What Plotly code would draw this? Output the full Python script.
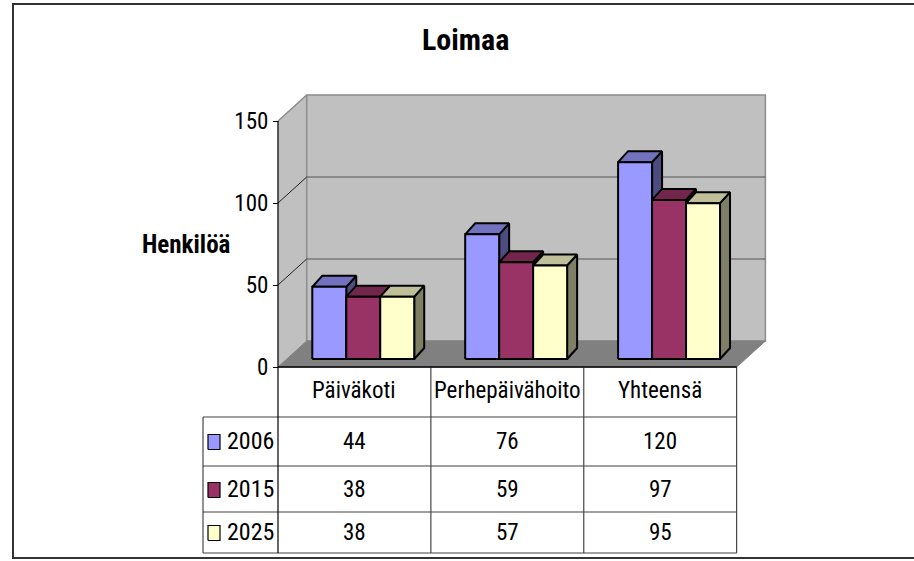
import plotly.graph_objects as go

# ---------------- data ----------------
categories = ["Päiväkoti", "Perhepäivähoito", "Yhteensä"]
series_names = ["2006", "2015", "2025"]
values_2006 = [44, 76, 120]
values_2015 = [38, 59, 97]
values_2025 = [38, 57, 95]
y_ticks = [0, 50, 100, 150]
title_text = "Loimaa"
y_title = "Henkilöä"

series_values = [values_2006, values_2015, values_2025]
series_colors = ["#9999FF", "#993366", "#FFFFCC"]

# ---------------- layout geometry ----------------
W, H = 914, 561
X0_PX, PX_PER_CAT = 278.0, 152.9      # front-plane category scale
Y0_PX, PX_PER_VAL = 367.0, 1.64       # front-plane value scale
Y_MAX = 150
FONT = "Roboto Condensed, Liberation Sans Narrow, Arial Narrow, Liberation Sans, sans-serif"


def cx(px):
    return (px - X0_PX) / PX_PER_CAT


def vy(py):
    return (Y0_PX - py) / PX_PER_VAL


# 3-D projection offsets (data units)
WALL_DX, WALL_DY = 28.7 / PX_PER_CAT, 26.0 / PX_PER_VAL
BAR_OFF_X, BAR_OFF_Y = 8.8 / PX_PER_CAT, 8.0 / PX_PER_VAL
BAR_DEP_X, BAR_DEP_Y = 10.0 / PX_PER_CAT, 11.0 / PX_PER_VAL
GAP_WIDTH = 1.5
BAR_W = 1.0 / (len(series_names) + GAP_WIDTH)
N = len(categories)


def shade(hex_color, f):
    h = hex_color.lstrip("#")
    r, g, b = (int(h[i:i + 2], 16) for i in (0, 2, 4))
    return "rgb(%d,%d,%d)" % (r * f, g * f, b * f)


def poly(xs, ys, fill, line_color="black", lw=2):
    return go.Scatter(x=list(xs) + [xs[0]], y=list(ys) + [ys[0]], mode="lines",
                      fill="toself", fillcolor=fill,
                      line=dict(color=line_color, width=lw),
                      hoverinfo="skip", showlegend=False)


def lines(segs, color, lw=1):
    xs, ys = [], []
    for (x0, y0, x1, y1) in segs:
        xs += [x0, x1, None]
        ys += [y0, y1, None]
    return go.Scatter(x=xs, y=ys, mode="lines", line=dict(color=color, width=lw),
                      hoverinfo="skip", showlegend=False)


fig = go.Figure()

# ---------------- walls & floor ----------------
fig.add_trace(poly([0, 0, WALL_DX, WALL_DX], [0, Y_MAX, Y_MAX + WALL_DY, WALL_DY],
                   "#C0C0C0", "#C0C0C0", 0.5))
fig.add_trace(poly([WALL_DX, N + WALL_DX, N + WALL_DX, WALL_DX],
                   [WALL_DY, WALL_DY, Y_MAX + WALL_DY, Y_MAX + WALL_DY],
                   "#C0C0C0", "#8C8C8C", 1.5))
fig.add_trace(poly([0, N, N + WALL_DX, WALL_DX], [0, 0, WALL_DY, WALL_DY],
                   "#808080", "#808080", 1))
# gridlines on back wall
fig.add_trace(lines([(WALL_DX, v + WALL_DY, N + WALL_DX, v + WALL_DY)
                     for v in y_ticks[1:-1]], "#555555", 1.2))
# gridlines on side wall
fig.add_trace(lines([(0, v, WALL_DX, v + WALL_DY) for v in y_ticks[1:-1]], "#222222", 1))
fig.add_trace(lines([(0, Y_MAX, WALL_DX, Y_MAX + WALL_DY)], "#8C8C8C", 1.5))

# ---------------- 3-D bars ----------------
for g in range(N):
    for s, vals in enumerate(series_values):
        v = vals[g]
        col = series_colors[s]
        left = g + GAP_WIDTH / 2 * BAR_W + s * BAR_W + BAR_OFF_X
        right = left + BAR_W
        b = BAR_OFF_Y
        t = b + v
        fig.add_trace(poly([right, right + BAR_DEP_X, right + BAR_DEP_X, right],
                           [b, b + BAR_DEP_Y, t + BAR_DEP_Y, t], shade(col, 0.5)))
        fig.add_trace(poly([left, right, right + BAR_DEP_X, left + BAR_DEP_X],
                           [t, t, t + BAR_DEP_Y, t + BAR_DEP_Y], shade(col, 0.75)))
        fig.add_trace(poly([left, right, right, left], [b, b, t, t], col))

# ---------------- data table ----------------
TABLE_LEFT_PX = 203
ROW_LINES_PX = [417, 466, 512, 553]
HEADER_TEXT_PX = 390
ROW_TEXT_PX = [441, 489, 532]
KEY_X_PX = (208, 220)
KEY_H_PX = 15
LABEL_X_PX = 225

# front floor edge + axis line
fig.add_trace(lines([(0, 0, N, 0)], "black", 1.5))
vert = [(c, vy(ROW_LINES_PX[-1]), c, 0) for c in range(1, N + 1)]
vert.append((cx(TABLE_LEFT_PX), vy(ROW_LINES_PX[0]), cx(TABLE_LEFT_PX), vy(ROW_LINES_PX[-1])))
fig.add_trace(lines(vert, "#222222", 1))
fig.add_trace(lines([(cx(TABLE_LEFT_PX), vy(p), N, vy(p)) for p in ROW_LINES_PX],
                    "#404040", 1))
fig.add_trace(lines([(0, vy(ROW_LINES_PX[-1]), 0, Y_MAX)], "black", 1.2))

annotations = []
for g, cat in enumerate(categories):
    annotations.append(dict(x=g + 0.5, y=vy(HEADER_TEXT_PX), xref="x", yref="y",
                            xanchor="center", text=cat, showarrow=False,
                            font=dict(family=FONT, size=23, color="black")))
for s, name in enumerate(series_names):
    yc = ROW_TEXT_PX[s]
    k0, k1 = cx(KEY_X_PX[0]), cx(KEY_X_PX[1])
    fig.add_trace(poly([k0, k1, k1, k0],
                       [vy(yc + 1 + KEY_H_PX / 2)] * 2 + [vy(yc + 1 - KEY_H_PX / 2)] * 2,
                       series_colors[s], "black", 1.2))
    annotations.append(dict(x=cx(LABEL_X_PX), y=vy(yc), xref="x", yref="y",
                            xanchor="left", text=name, showarrow=False,
                            font=dict(family=FONT, size=24, color="black")))
    for g in range(N):
        annotations.append(dict(x=g + 0.5, y=vy(yc), xref="x", yref="y",
                                xanchor="center",
                                text=str(series_values[s][g]), showarrow=False,
                                font=dict(family=FONT, size=23, color="black")))

annotations.append(dict(x=466 / W, y=(H - 40) / H, xref="paper", yref="paper",
                        xanchor="center", yanchor="middle",
                        text="<b>%s</b>" % title_text, showarrow=False,
                        font=dict(family=FONT, size=30, color="black")))
annotations.append(dict(x=185.5 / W, y=(H - 244) / H, xref="paper", yref="paper",
                        xanchor="center", yanchor="middle",
                        text="<b>%s</b>" % y_title, showarrow=False,
                        font=dict(family=FONT, size=25, color="black")))

fig.update_layout(
    width=W, height=H, autosize=False,
    margin=dict(l=0, r=0, t=0, b=0),
    paper_bgcolor="white", plot_bgcolor="white",
    showlegend=False,
    xaxis=dict(range=[cx(0), cx(W)], domain=[0, 1], visible=False, fixedrange=True),
    yaxis=dict(range=[vy(H), vy(0)], domain=[0, 1], anchor="free", position=X0_PX / W,
               tickvals=y_ticks, ticks="outside", ticklen=5, tickcolor="black",
               tickwidth=1, showline=False, showgrid=False, zeroline=False,
               tickfont=dict(family=FONT, size=23, color="black"), fixedrange=True),
    annotations=annotations,
    shapes=[dict(type="rect", xref="paper", yref="paper",
                 x0=13 / W, x1=1.05, y0=(H - 558) / H, y1=(H - 4) / H,
                 line=dict(color="#333333", width=2), layer="above")],
)

fig.write_html("out.html", config={"displayModeBar": False},
               post_script="document.body.style.margin='0';")
